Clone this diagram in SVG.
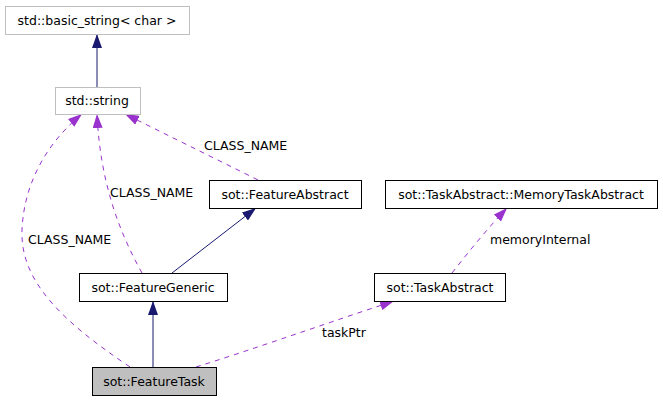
<svg xmlns="http://www.w3.org/2000/svg" width="663" height="400" viewBox="0 0 663 400">
<style>
text{font-family:"DejaVu Sans",sans-serif;font-size:12.5px;fill:#000}
.n text{text-anchor:middle}
.ext rect{fill:#fff;stroke:#bfbfbf;stroke-width:1}
.cls rect{fill:#fff;stroke:#000;stroke-width:1}
.cur rect{fill:#bfbfbf;stroke:#000;stroke-width:1}
.inh{fill:none;stroke:#191970;stroke-width:1;marker-end:url(#ah)}
.use{fill:none;stroke:#9a32cd;stroke-width:1;stroke-dasharray:5,5;marker-end:url(#ap)}
</style>
<defs>
<marker id="ah" viewBox="0 0 14 10" refX="14" refY="5" markerWidth="14" markerHeight="10" markerUnits="userSpaceOnUse" orient="auto"><path d="M0,0 L14,5 L0,10 z" fill="#191970"/></marker>
<marker id="ap" viewBox="0 0 14 10" refX="14" refY="5" markerWidth="14" markerHeight="10" markerUnits="userSpaceOnUse" orient="auto"><path d="M0,0 L14,5 L0,10 z" fill="#9a32cd"/></marker>
</defs>
<rect width="663" height="400" fill="#fff"/>
<g id="edges">
<path class="inh" d="M97,87 L97,34"/>
<path class="use" d="M258,180 C210,156 165,134 125,114"/>
<text x="204" y="150">CLASS_NAME</text>
<path class="use" d="M142,273 C118,230 100,180 97,114"/>
<text x="110" y="197">CLASS_NAME</text>
<path class="use" d="M130,367 C60,320 20,280 22,230 C24,180 50,140 82,114"/>
<text x="28" y="244">CLASS_NAME</text>
<path class="inh" d="M172,273 L256,208"/>
<path class="inh" d="M153,367 L153,301"/>
<path class="use" d="M196,367 C260,347 330,322 394,301"/>
<text x="322" y="337">taskPtr</text>
<path class="use" d="M452,273 C470,250 488,228 507,208"/>
<text x="490" y="244">memoryInternal</text>
</g>
<g id="basic_string" class="n ext"><rect x="5.5" y="6.5" width="184" height="28"/><text x="97" y="25">std::basic_string&lt; char &gt;</text></g>
<g id="string" class="n ext"><rect x="55.5" y="87.5" width="85" height="27"/><text x="97" y="105">std::string</text></g>
<g id="FeatureAbstract" class="n cls"><rect x="209.5" y="180.5" width="152" height="28"/><text x="285" y="198.5">sot::FeatureAbstract</text></g>
<g id="MemoryTaskAbstract" class="n cls"><rect x="385.5" y="180.5" width="272" height="28"/><text x="521" y="198.5">sot::TaskAbstract::MemoryTaskAbstract</text></g>
<g id="FeatureGeneric" class="n cls"><rect x="79.5" y="273.5" width="148" height="28"/><text x="153" y="291.5">sot::FeatureGeneric</text></g>
<g id="TaskAbstract" class="n cls"><rect x="374.5" y="273.5" width="131" height="28"/><text x="440" y="291.5">sot::TaskAbstract</text></g>
<g id="FeatureTask" class="n cur"><rect x="92.5" y="367.5" width="124" height="28"/><text x="154" y="385.5">sot::FeatureTask</text></g>
</svg>
